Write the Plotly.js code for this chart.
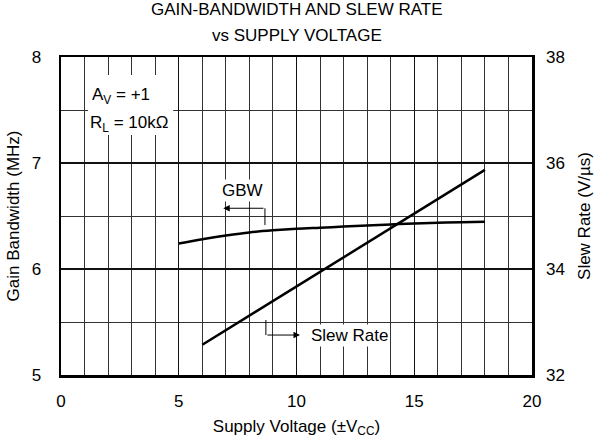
<!DOCTYPE html>
<html>
<head>
<meta charset="utf-8">
<script src="https://cdn.plot.ly/plotly-3.0.1.min.js"></script>
<style>html,body{margin:0;padding:0;background:#fff;}#chart{width:597px;height:441px;}</style>
</head>
<body>
<div id="chart"></div>
<script>
// Gain bandwidth vs supply voltage (MHz)
var gbwVoltage = [5, 6, 7, 8, 9, 10, 11, 12, 13, 14, 15, 16, 17, 18];
var gbwValues  = [6.24, 6.28, 6.315, 6.345, 6.365, 6.38, 6.39, 6.40, 6.41, 6.42, 6.43, 6.436, 6.442, 6.446];
// Slew rate vs supply voltage (V/us)
var srVoltage = [6, 18];
var srValues  = [32.57, 35.87];

var xTicks = [0, 5, 10, 15, 20];
var leftTicks = [5, 6, 7, 8];
var rightTicks = [32, 34, 36, 38];

var titleLines = ['GAIN-BANDWIDTH AND SLEW RATE', 'vs SUPPLY VOLTAGE'];

var font = 'Liberation Sans, Arial, sans-serif';
var fs = 17;

var traces = [
  {x: gbwVoltage, y: gbwValues, mode: 'lines', line: {color: '#000', width: 2.5, shape: 'spline'}, yaxis: 'y', hoverinfo: 'skip'},
  {x: srVoltage, y: srValues, mode: 'lines', line: {color: '#000', width: 2.5}, yaxis: 'y2', hoverinfo: 'skip'}
];

var layout = {
  width: 597, height: 441,
  margin: {l: 61, r: 65, t: 57, b: 66},
  paper_bgcolor: '#fff', plot_bgcolor: '#fff',
  showlegend: false,
  font: {family: font, size: fs, color: '#000'},
  xaxis: {
    range: [0, 20], tickvals: xTicks, ticktext: xTicks.map(String),
    showgrid: true, gridcolor: '#111', gridwidth: 1.3,
    minor: {dtick: 1, showgrid: true, gridcolor: '#333', gridwidth: 1, ticks: ''},
    showline: true, linecolor: '#000', linewidth: 2.5, mirror: true,
    ticks: '', ticklabelstandoff: 9, zeroline: false,
    tickfont: {family: font, size: fs},
    title: {text: 'Supply Voltage (±V<sub>CC</sub>)', font: {family: font, size: fs}, standoff: 10}
  },
  yaxis: {
    range: [5, 8], tickvals: leftTicks, ticktext: leftTicks.map(String),
    showgrid: true, gridcolor: '#111', gridwidth: 1.3,
    minor: {dtick: 0.5, showgrid: true, gridcolor: '#333', gridwidth: 1, ticks: ''},
    showline: true, linecolor: '#000', linewidth: 2.5, mirror: true,
    ticks: '', ticklabelstandoff: 14, zeroline: false,
    tickfont: {family: font, size: fs},
    title: {text: 'Gain Bandwidth (MHz)', font: {family: font, size: fs}, standoff: 8}
  },
  yaxis2: {
    range: [32, 38], tickvals: rightTicks, ticktext: rightTicks.map(String),
    overlaying: 'y', side: 'right', showgrid: false, zeroline: false,
    ticks: '', ticklabelstandoff: 13,
    tickfont: {family: font, size: fs},
    title: {text: 'Slew Rate (V/µs)', font: {family: font, size: fs}, standoff: 14}
  },
  shapes: [
    {type: 'rect', xref: 'x', yref: 'y', x0: 1.15, x1: 4.76, y0: 7.264, y1: 7.83, fillcolor: '#fff', line: {width: 0}, layer: 'above'},
    {type: 'line', xref: 'x', yref: 'y', x0: 8.66, x1: 8.66, y0: 6.573, y1: 6.415, line: {color: '#000', width: 1}},
    {type: 'line', xref: 'x', yref: 'y', x0: 8.70, x1: 8.70, y0: 5.519, y1: 5.377, line: {color: '#000', width: 1}}
  ],
  annotations: [
    {xref: 'paper', yref: 'paper', x: 0.5, y: 1.148, yanchor: 'middle', text: titleLines[0], showarrow: false, font: {family: font, size: fs}},
    {xref: 'paper', yref: 'paper', x: 0.5, y: 1.068, yanchor: 'middle', text: titleLines[1], showarrow: false, font: {family: font, size: fs}},
    {xref: 'x', yref: 'y', x: 2.55, y: 7.63, text: 'A<sub>V</sub> = +1', showarrow: false, font: {family: font, size: fs}},
    {xref: 'x', yref: 'y', x: 2.89, y: 7.37, text: 'R<sub>L</sub> = 10kΩ', showarrow: false, font: {family: font, size: fs}},
    {xref: 'x', yref: 'y', x: 7.69, y: 6.745, text: 'GBW', showarrow: false, bgcolor: '#fff', font: {family: font, size: fs}, borderpad: 1},
    {xref: 'x', yref: 'y', x: 6.89, y: 6.573, axref: 'x', ayref: 'y', ax: 8.66, ay: 6.573, text: '', showarrow: true, arrowhead: 2, arrowsize: 1.3, arrowwidth: 1, arrowcolor: '#000'},
    {xref: 'x', yref: 'y', x: 10.15, y: 5.377, axref: 'x', ayref: 'y', ax: 8.70, ay: 5.377, text: '', showarrow: true, arrowhead: 2, arrowsize: 1.3, arrowwidth: 1, arrowcolor: '#000'},
    {xref: 'x', yref: 'y', x: 12.23, y: 5.377, text: 'Slew Rate', showarrow: false, bgcolor: '#fff', font: {family: font, size: fs}, borderpad: 1}
  ]
};

Plotly.newPlot('chart', traces, layout, {staticPlot: true, displayModeBar: false});
</script>
</body>
</html>
